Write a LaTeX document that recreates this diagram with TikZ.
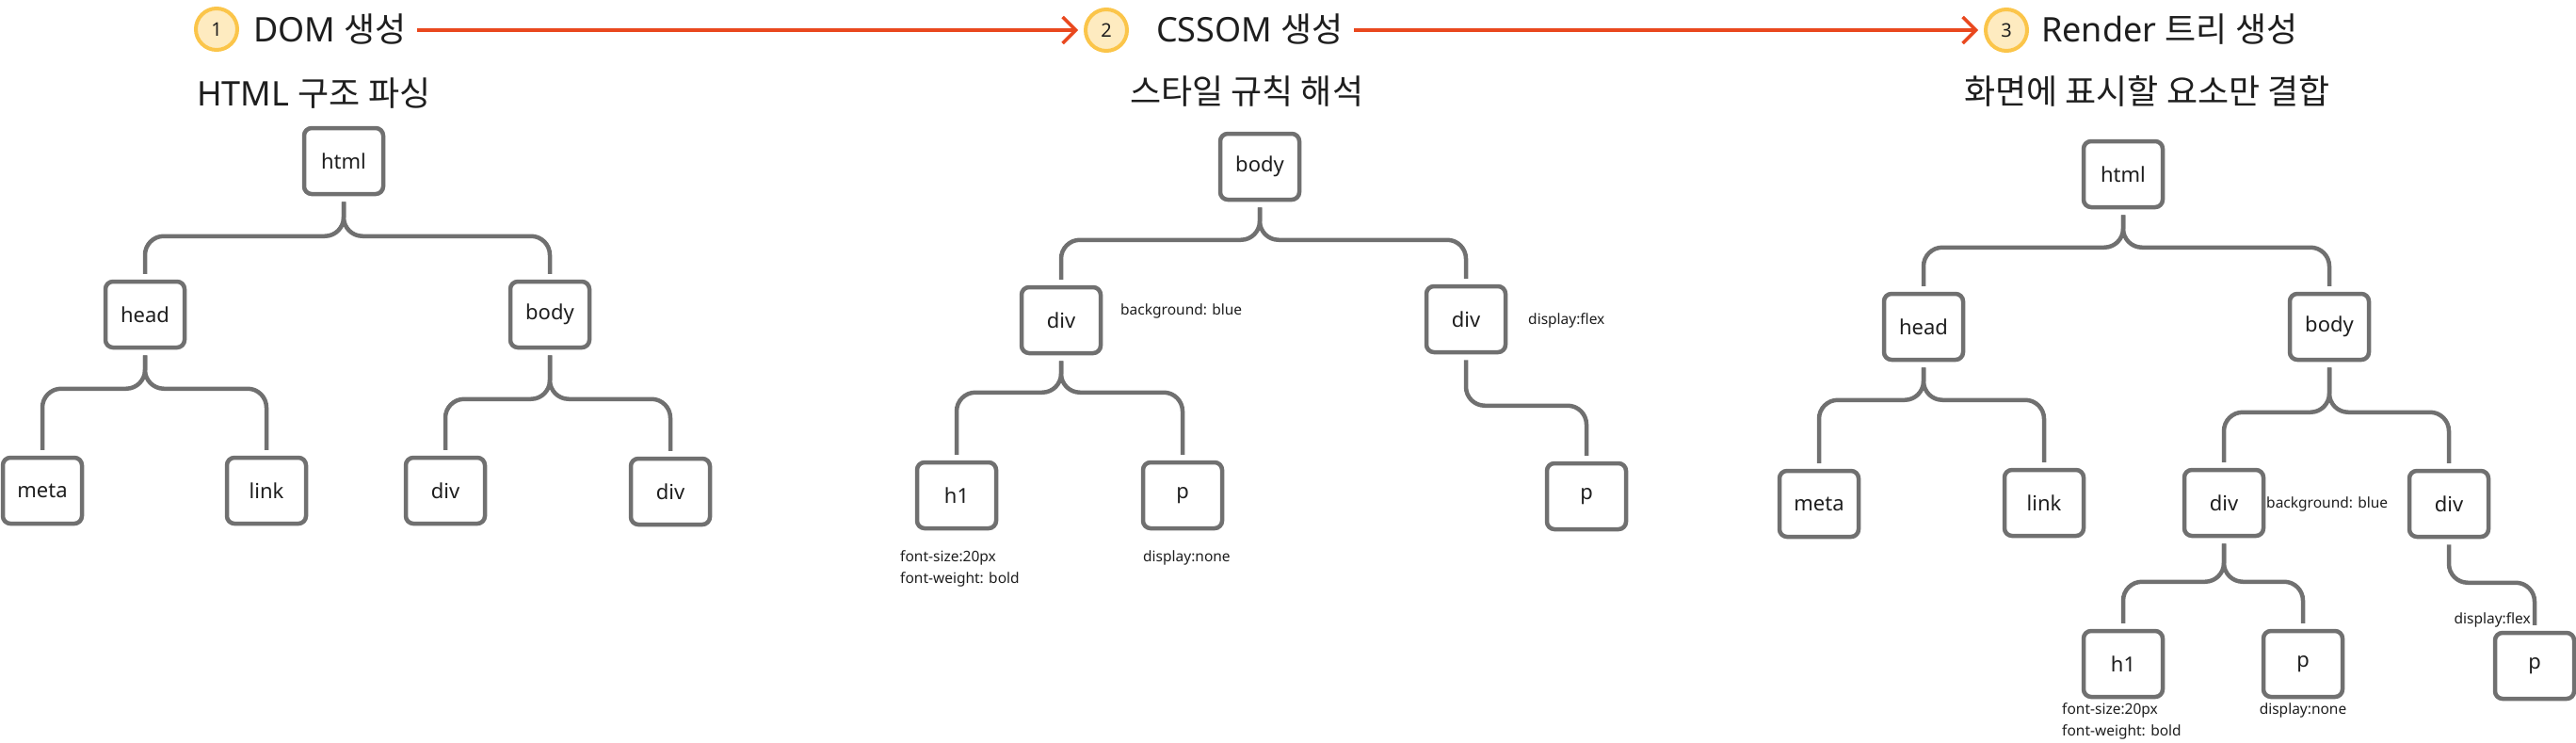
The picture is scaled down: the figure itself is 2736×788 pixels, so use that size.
\documentclass[tikz,border=0pt]{standalone}
\usepackage{fontspec}
\setmainfont{Noto Sans}
\newfontfamily\kr{Noto Sans CJK KR}
\usetikzlibrary{arrows.meta,calc}
\definecolor{linegray}{HTML}{707070}
\definecolor{txt}{HTML}{1E1E1E}
\definecolor{gold}{HTML}{FBC54A}
\definecolor{cream}{HTML}{FEEBC0}
\definecolor{redc}{HTML}{E9481E}
\newcommand\kid[3]{\draw[conn] ($(#1.south)+(0,6)$) |- ($(#2.north)+(0,-#3)$) -- ($(#2.north)+(0,-6)$);}
\begin{document}
\begin{tikzpicture}[x=1pt,y=-1pt,
  box/.style={draw=linegray, line width=4.5pt, rounded corners=8pt, minimum width=84pt, minimum height=70pt, inner sep=0pt, font=\fontsize{22}{26}\selectfont, text=txt},
  conn/.style={draw=linegray, line width=4.5pt, rounded corners=20pt},
  ann/.style={font=\fontsize{15.5}{18}\selectfont, inner sep=0pt, text=txt},
  ttl/.style={font=\fontsize{36}{42}\selectfont, inner sep=0pt, text=txt, anchor=base west},
  numc/.style={circle, draw=gold, fill=cream, line width=4pt, minimum size=44pt, inner sep=0pt, font=\fontsize{20}{24}\selectfont, text=txt},
  redarrow/.style={draw=redc, line width=3.5pt, -{Straight Barb[length=14pt,width=28pt]}}]
\useasboundingbox[fill=white] (0,0) rectangle (2736,788);

% ---- headers
\node[numc] (c1) at (230,31) {1};
\node[ttl] (t1) at (269,44) {DOM {\kr 생성}};
\node[ttl] (s1) at (209,112) {HTML {\kr 구조 파싱}};
\node[numc] (c2) at (1175,32) {2};
\node[ttl] (t2) at (1228,44) {CSSOM {\kr 생성}};
\node[ttl] (s2) at (1200,110) {\kr 스타일 규칙 해석};
\node[numc] (c3) at (2131,32) {3};
\node[ttl] (t3) at (2168,44) {Render {\kr 트리 생성}};
\node[ttl] (s3) at (2086,110) {\kr 화면에 표시할 요소만 결합};
\draw[redarrow] (c2.west -| t1.east) ++(11,0) -- ($(c2.west)+(-6,0)$);
\draw[redarrow] (c3.west -| t2.east) ++(11,0) -- ($(c3.west)+(-6,0)$);

% ---- tree 1 (DOM)
\node[box] (a0) at (365,171) {html};
\node[box] (a1) at (154,334) {head};
\node[box] (a2) at (584,334) {body};
\node[box] (a3) at (45,521) {meta};
\node[box] (a4) at (283,521) {link};
\node[box] (a5) at (473,521) {div};
\node[box] (a6) at (712,522) {div};
\kid{a0}{a1}{46}\kid{a0}{a2}{46}
\kid{a1}{a3}{71}\kid{a1}{a4}{71}
\kid{a2}{a5}{60}\kid{a2}{a6}{61}

% ---- tree 2 (CSSOM)
\node[box] (b0) at (1338,177) {body};
\node[box] (b1) at (1127,340) {div};
\node[box] (b2) at (1557,339) {div};
\node[box] (b3) at (1016,526) {h1};
\node[box] (b4) at (1256,526) {p};
\node[box] (b5) at (1685,527) {p};
\kid{b0}{b1}{48}\kid{b0}{b2}{47}
\kid{b1}{b3}{72}\kid{b1}{b4}{72}
\kid{b2}{b5}{59}
\node[ann, anchor=west] (b1n) at (1190,330) {background: blue};
\node[ann, anchor=west] (b2n) at (1623,340) {display:flex};
\node[ann, anchor=west] (b3n) at (956,592) {font-size:20px};
\node[ann, anchor=west] (b3m) at (956,615) {font-weight: bold};
\node[ann, anchor=west] (b4n) at (1214,592) {display:none};

% ---- tree 3 (Render)
\node[box] (r0) at (2255,185) {html};
\node[box] (r1) at (2043,347) {head};
\node[box] (r2) at (2474,347) {body};
\node[box] (r3) at (1932,535) {meta};
\node[box] (r4) at (2171,534) {link};
\node[box] (r5) at (2362,534) {div};
\node[box] (r6) at (2601,535) {div};
\node[box] (r7) at (2255,705) {h1};
\node[box] (r8) at (2446,705) {p};
\node[box] (r9) at (2692,707) {p};
\kid{r0}{r1}{47}\kid{r0}{r2}{47}
\kid{r1}{r3}{73}\kid{r1}{r4}{72}
\kid{r2}{r5}{59}\kid{r2}{r6}{60}
\kid{r5}{r7}{50}\kid{r5}{r8}{50}
\kid{r6}{r9}{51}
\node[ann, anchor=west] (r5n) at (2407,535) {background: blue};
\node[ann, anchor=east] (r9n) at (2688,658) {display:flex};
\node[ann, anchor=west] (r7n) at (2190,754) {font-size:20px};
\node[ann, anchor=west] (r7m) at (2190,777) {font-weight: bold};
\node[ann] (r8n) at (2446,754) {display:none};
\end{tikzpicture}
\end{document}
